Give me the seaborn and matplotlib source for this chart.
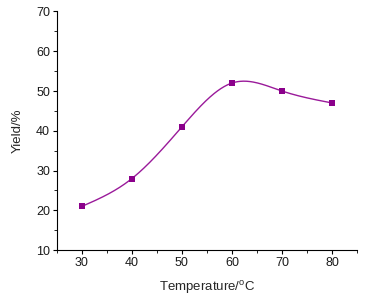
import numpy as np
import pandas as pd
import matplotlib
matplotlib.use("Agg")
import matplotlib.pyplot as plt
import seaborn as sns
from matplotlib.ticker import MultipleLocator

temperature = [30, 40, 50, 60, 70, 80]
yield_pct = [21, 28, 41, 52, 50, 47]
x_ticks = [30, 40, 50, 60, 70, 80]
y_ticks = [10, 20, 30, 40, 50, 60, 70]

def natural_spline(x, y, n=300):
    x = np.asarray(x, float); y = np.asarray(y, float)
    m = len(x); h = np.diff(x)
    A = np.zeros((m, m)); b = np.zeros(m)
    A[0, 0] = A[-1, -1] = 1
    for i in range(1, m - 1):
        A[i, i - 1] = h[i - 1]; A[i, i] = 2 * (h[i - 1] + h[i]); A[i, i + 1] = h[i]
        b[i] = 6 * ((y[i + 1] - y[i]) / h[i] - (y[i] - y[i - 1]) / h[i - 1])
    M = np.linalg.solve(A, b)
    xs = np.linspace(x[0], x[-1], n); ys = np.empty_like(xs)
    for k, xv in enumerate(xs):
        i = min(np.searchsorted(x, xv, side="right") - 1, m - 2)
        t1 = x[i + 1] - xv; t0 = xv - x[i]
        ys[k] = (M[i] * t1**3 + M[i + 1] * t0**3) / (6 * h[i]) \
            + (y[i] / h[i] - M[i] * h[i] / 6) * t1 + (y[i + 1] / h[i] - M[i + 1] * h[i] / 6) * t0
    return xs, ys

sns.set_style("ticks")
plt.rcParams["font.family"] = ["Liberation Sans", "DejaVu Sans"]

color = "#8B008B"
line_color = "#9A1A9A"
xs, ys = natural_spline(temperature, yield_pct)
curve = pd.DataFrame({"T": xs, "Y": ys})
pts = pd.DataFrame({"T": temperature, "Y": yield_pct})

fig = plt.figure(figsize=(3.65, 3.01), dpi=100)
ax = fig.add_axes([0.156, 0.169, 0.822, 0.793])
sns.lineplot(data=curve, x="T", y="Y", ax=ax, color=line_color, lw=1.0, estimator=None, sort=False)
sns.scatterplot(data=pts, x="T", y="Y", ax=ax, color=color, marker="s", s=22, edgecolor=color, linewidth=0, zorder=3)

ax.set_xlim(25, 85)
ax.set_ylim(10, 70)
ax.set_xticks(x_ticks)
ax.set_yticks(y_ticks)
ax.xaxis.set_minor_locator(MultipleLocator(5))
ax.yaxis.set_minor_locator(MultipleLocator(5))
ax.tick_params(which="major", length=3, width=0.8, labelsize=9, pad=2, color="black", labelcolor="#1a1a1a")
ax.tick_params(which="minor", length=2, width=0.6, color="black")
for s in ["top", "right"]:
    ax.spines[s].set_visible(False)
for s in ["left", "bottom"]:
    ax.spines[s].set_linewidth(0.8)
    ax.spines[s].set_color("black")
ax.set_xlabel(r"Temperature/$^\mathregular{o}$C", fontsize=9.5, labelpad=7)
ax.set_ylabel("Yield/%", fontsize=9.5, labelpad=9)
fig.savefig("out.png", dpi=100)
